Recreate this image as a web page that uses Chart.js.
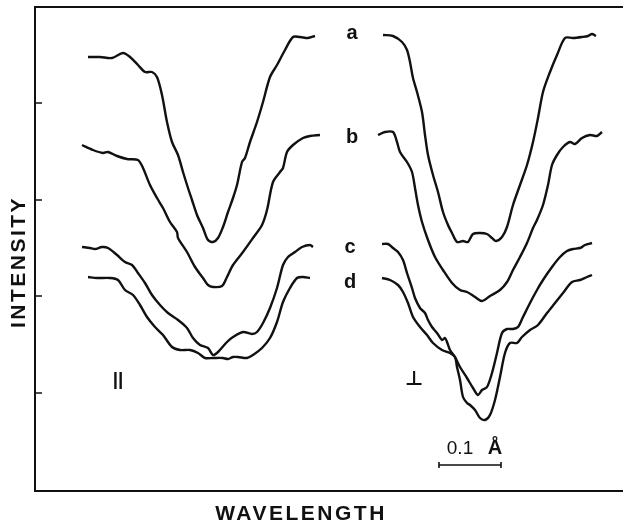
<!DOCTYPE html>
<html>
<head>
<meta charset="utf-8">
<script src="https://cdn.jsdelivr.net/npm/chart.js@4/dist/chart.umd.min.js"></script>
<style>
html,body{margin:0;padding:0;background:#fff;}
#wrap{width:623px;height:524px;}
</style>
</head>
<body>
<div id="wrap"><canvas id="c" width="623" height="524"></canvas></div>
<script>
// Wavelength (arbitrary units, 62 units = 0.1 Å) and intensity (arbitrary units)
// Parallel (||) profiles
const aParX = [53,65,77,88,95,103,110,117,122,127,132,137,143,148,153,157,162,168,173,178,183,188,193,198,202,207,210,215,222,228,235,242,250,258,265,273,280];
const aParY = [433,433,432,437,433,425,418,418,413,395,368,348,335,318,302,290,275,262,250,248,252,263,278,292,305,328,332,348,368,388,413,425,440,453,453,452,454];
const bParX = [47,58,68,73,82,92,103,108,115,122,128,135,142,143,152,160,168,173,178,187,192,198,208,218,227,232,238,245,248,252,258,268,275,285];
const bParY = [345,340,337,338,334,331,330,322,305,292,282,268,258,252,238,223,212,205,203,204,213,225,238,252,265,280,308,318,322,338,345,352,354,355];
const cParX = [47,55,60,67,73,82,90,97,103,110,117,125,133,143,152,158,165,173,178,183,192,198,208,217,222,228,235,242,248,253,260,267,275,278];
const cParY = [243,242,241,243,242,235,228,225,217,207,195,185,177,170,162,152,145,142,135,138,148,153,158,156,158,167,182,202,225,233,238,243,245,243];
const dParX = [53,62,75,83,90,98,105,112,120,128,137,145,155,163,170,178,188,193,198,203,212,218,227,235,242,248,255,262,268,275];
const dParY = [213,212,212,210,200,195,185,173,163,155,143,140,140,137,132,132,132,131,133,133,132,135,142,152,168,188,202,212,213,212];
// Perpendicular (⊥) profiles
const aPerX = [348,358,367,372,375,378,382,387,390,393,398,403,408,413,417,422,428,433,438,445,452,457,461,467,472,478,485,492,498,503,508,515,522,530,538,547,553,557,561];
const aPerY = [455,454,448,440,428,412,398,378,355,335,315,298,278,265,257,248,249,248,256,257,256,252,249,253,263,285,305,325,348,372,398,418,435,452,452,453,454,456,454];
const bPerX = [343,350,358,362,365,372,377,380,383,387,393,400,408,417,425,432,440,447,455,465,472,478,485,492,498,502,508,513,517,522,528,535,540,547,555,562,567];
const bPerY = [355,358,358,348,338,328,318,302,285,268,250,233,220,207,200,198,193,189,194,200,208,220,233,247,262,270,285,305,325,335,343,348,346,352,355,354,358];
const cPerX = [347,353,358,363,368,372,377,380,385,390,393,397,402,407,410,412,415,420,425,432,438,443,447,452,457,462,467,472,478,483,488,495,502,508,517,525,532,538,545,550,557];
const cPerY = [246,246,242,238,230,217,202,192,182,177,170,163,157,150,152,148,140,133,123,112,102,95,100,103,117,137,157,161,161,163,173,187,200,210,223,233,239,241,242,245,247];
const dPerX = [347,355,363,368,373,378,385,392,398,407,415,420,422,425,428,432,435,440,445,450,455,460,465,470,475,482,487,495,503,512,520,528,537,545,552,557];
const dPerY = [212,210,205,198,187,173,163,155,147,140,137,133,123,110,93,87,85,80,72,70,75,90,113,137,147,147,153,160,165,177,187,197,208,210,213,215];

const curveLabels = ['a','b','c','d'];
const labelX = [317,317,315,315];
const labelY = [457,353,243,208];
const yTicks = [97,194,290,387];
const scaleBarFrom = 404, scaleBarTo = 466; // 0.1 Å

const zip = (xs, ys) => xs.map((x, i) => ({x, y: ys[i]}));
const series = [
  [aParX,aParY],[bParX,bParY],[cParX,cParY],[dParX,dParY],
  [aPerX,aPerY],[bPerX,bPerY],[cPerX,cPerY],[dPerX,dPerY]
];
const datasets = series.map(([xs, ys]) => ({
  data: zip(xs, ys),
  showLine: true,
  borderColor: '#111',
  borderWidth: 2.4,
  pointRadius: 0,
  tension: 0.3,
  fill: false
}));

const decor = {
  id: 'decor',
  afterDatasetsDraw(chart) {
    const ctx = chart.ctx;
    const xs = chart.scales.x, ys = chart.scales.y;
    const a = chart.chartArea;
    ctx.save();
    ctx.strokeStyle = '#111';
    ctx.fillStyle = '#111';
    ctx.lineWidth = 2;
    // frame
    ctx.beginPath();
    ctx.moveTo(a.right, a.top); ctx.lineTo(a.left, a.top);
    ctx.lineTo(a.left, a.bottom + 1); ctx.lineTo(a.right, a.bottom + 1);
    ctx.stroke();
    // inward ticks
    ctx.lineWidth = 1.5;
    yTicks.forEach(v => {
      const py = ys.getPixelForValue(v);
      ctx.beginPath(); ctx.moveTo(a.left, py); ctx.lineTo(a.left + 7, py); ctx.stroke();
    });
    // curve letters
    ctx.font = 'bold 20px "Liberation Sans", Arial, sans-serif';
    ctx.textAlign = 'center'; ctx.textBaseline = 'middle';
    curveLabels.forEach((t, i) => {
      ctx.fillText(t, xs.getPixelForValue(labelX[i]), ys.getPixelForValue(labelY[i]));
    });
    // polarisation symbols
    ctx.font = 'bold 19px "Liberation Sans", sans-serif';
    ctx.fillText('||', xs.getPixelForValue(83), ys.getPixelForValue(110));
    ctx.font = 'bold 20px "DejaVu Sans", sans-serif';
    ctx.fillText('⊥', xs.getPixelForValue(379), ys.getPixelForValue(110));
    // scale bar
    const x0 = xs.getPixelForValue(scaleBarFrom), x1 = xs.getPixelForValue(scaleBarTo);
    const yb = ys.getPixelForValue(25);
    ctx.lineWidth = 1.6;
    ctx.beginPath();
    ctx.moveTo(x0, yb); ctx.lineTo(x1, yb);
    ctx.moveTo(x0, yb - 3); ctx.lineTo(x0, yb + 3);
    ctx.moveTo(x1, yb - 3); ctx.lineTo(x1, yb + 3);
    ctx.stroke();
    ctx.font = '19px "Liberation Sans", sans-serif';
    ctx.fillText('0.1', xs.getPixelForValue(425), ys.getPixelForValue(41));
    ctx.font = 'bold 20px "Liberation Sans", sans-serif';
    ctx.fillText('Å', xs.getPixelForValue(460), ys.getPixelForValue(42));
    // axis titles
    ctx.font = 'bold 21px "Liberation Sans", sans-serif';
    ctx.letterSpacing = '2.5px';
    ctx.fillText('WAVELENGTH', 301, 514);
    ctx.translate(19, 262);
    ctx.rotate(-Math.PI / 2);
    ctx.fillText('INTENSITY', 0, 0);
    ctx.restore();
  }
};

new Chart(document.getElementById('c'), {
  type: 'scatter',
  data: { datasets },
  options: {
    responsive: false,
    animation: false,
    layout: { padding: { left: 35, right: 0, top: 7, bottom: 34 } },
    plugins: { legend: { display: false }, tooltip: { enabled: false } },
    scales: {
      x: { type: 'linear', min: 0, max: 588, display: false },
      y: { type: 'linear', min: 0, max: 483, display: false }
    }
  },
  plugins: [decor]
});
</script>
</body>
</html>
